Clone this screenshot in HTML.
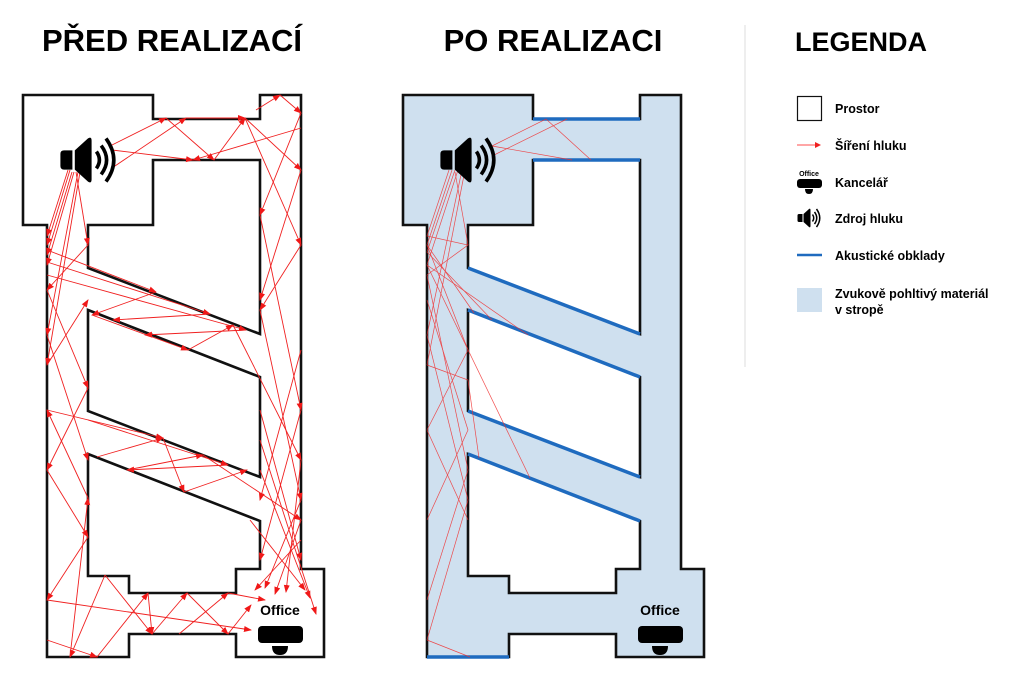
<!DOCTYPE html>
<html><head><meta charset="utf-8"><style>
html,body{margin:0;padding:0;background:#fff;}
svg{display:block;font-family:"Liberation Sans",sans-serif;}
</style></head><body>
<svg width="1024" height="683" viewBox="0 0 1024 683" xmlns="http://www.w3.org/2000/svg">
<defs>
<marker id="ar" markerWidth="8" markerHeight="8" refX="7" refY="4" orient="auto" markerUnits="userSpaceOnUse">
<path d="M0,1 L8,4 L0,7 Z" fill="#f01818"/></marker>
<g id="spk">
<path d="M0,-8 h7 v16 h-7 q-3,0 -3,-3 v-10 q0,-3 3,-3z" fill="#000"/>
<path d="M9,-8 L20,-18 q3,-2 3,2 v32 q0,4 -3,2 L9,8z" fill="#000"/>
<path d="M27,-7 q5,7 0,14" stroke="#000" stroke-width="3" fill="none"/>
<path d="M31,-12 q9,12 0,24" stroke="#000" stroke-width="3" fill="none"/>
<path d="M35,-18 q13,18 0,36" stroke="#000" stroke-width="3" fill="none"/>
</g>
<g id="off">
<rect x="0" y="0" width="45" height="17" rx="4" fill="#000"/>
<path d="M14,20 h16 q0,9 -8,9 q-8,0 -8,-9z" fill="#000"/>
</g>
</defs>

<text x="172" y="51" font-size="31" font-weight="bold" text-anchor="middle" fill="#000">PŘED REALIZACÍ</text>
<text x="553" y="51" font-size="31" font-weight="bold" text-anchor="middle" fill="#000">PO REALIZACI</text>
<text x="861" y="51" font-size="27" font-weight="bold" text-anchor="middle" fill="#000">LEGENDA</text>
<line x1="745" y1="25" x2="745" y2="367" stroke="#ddd" stroke-width="1"/>

<g fill="none" stroke="#111" stroke-width="2.6">
<path d="M23,95 H153 V119 H260 V95 H301 V569 H324 V657 H236 V634 H129 V657 H47 V225 H23 Z" fill="#fff"/>
<path d="M88,225 H153 V160 H260 V334 L88,268 Z"/>
<path d="M88,310 L260,377 V477 L88,411 Z"/>
<path d="M88,454 L260,521 V569 H236 V593 H129 V576 H88 Z"/>
</g>

<g stroke="#111" stroke-width="2.6">
<path d="M403,95 H533 V119 H640 V95 H681 V569 H704 V657 H616 V634 H509 V657 H427 V225 H403 Z" fill="#cfe0ef"/>
<path d="M468,225 H533 V160 H640 V334 L468,268 Z" fill="#fff"/>
<path d="M468,310 L640,377 V477 L468,411 Z" fill="#fff"/>
<path d="M468,454 L640,521 V569 H616 V593 H509 V576 H468 Z" fill="#fff"/>
</g>
<g stroke="#1f6bbf" stroke-width="3.5" fill="none">
<line x1="533" y1="119" x2="640" y2="119"/>
<line x1="533" y1="160" x2="640" y2="160"/>
<line x1="468" y1="268" x2="640" y2="334"/>
<line x1="468" y1="310" x2="640" y2="377"/>
<line x1="468" y1="411" x2="640" y2="477"/>
<line x1="468" y1="454" x2="640" y2="521"/>
<line x1="427" y1="657" x2="509" y2="657"/>
</g>

<g stroke="#f03030" stroke-width="0.7" fill="none" opacity="0.85">
<path d="M492,146 L546,119 L591,160"/>
<path d="M492,156 L567,119"/>
<path d="M492,146 L572,160"/>
<path d="M449,170 L427,236 L468,245 L427,275"/>
<path d="M452,170 L427,245 L474,313"/>
<path d="M455,170 L427,252 L492,320"/>
<path d="M458,170 L427,265 L528,335"/>
<path d="M462,170 L427,335"/>
<path d="M465,170 L427,365"/>
<path d="M455,172 L468,245"/>
<path d="M427,245 L468,350 L427,430"/>
<path d="M427,275 L468,470 L427,600"/>
<path d="M427,335 L468,500"/>
<path d="M427,365 L468,380 L479,458"/>
<path d="M427,265 L530,478"/>
<path d="M427,300 L468,430 L427,520"/>
<path d="M427,430 L468,520"/>
<path d="M427,640 L470,657"/>
<path d="M468,500 L427,640"/>
</g>

<g stroke="#f02020" stroke-width="0.9" fill="none" marker-end="url(#ar)">
<path d="M68,170 L47,236"/>
<path d="M70,170 L47,245"/>
<path d="M72,172 L47,255"/>
<path d="M74,172 L47,265"/>
<path d="M76,172 L88,245"/>
<path d="M78,172 L47,335"/>
<path d="M80,172 L47,365"/>
<path d="M112,145 L166,118"/>
<path d="M112,150 L193,160"/>
<path d="M112,168 L186,118"/>
<path d="M166,118 L214,160"/>
<path d="M186,118 L245,118"/>
<path d="M214,160 L245,118"/>
<path d="M245,118 L301,170"/>
<path d="M256,110 L280,95"/>
<path d="M280,95 L301,113"/>
<path d="M301,128 L193,160"/>
<path d="M301,113 L260,215"/>
<path d="M260,215 L301,410"/>
<path d="M301,245 L260,310"/>
<path d="M245,118 L301,245"/>
<path d="M301,170 L260,300"/>
<path d="M260,310 L301,500"/>
<path d="M301,350 L260,500"/>
<path d="M260,410 L301,560"/>
<path d="M301,410 L260,560"/>
<path d="M301,500 L265,588"/>
<path d="M301,540 L255,590"/>
<path d="M260,470 L310,598"/>
<path d="M260,440 L316,614"/>
<path d="M301,460 L286,592"/>
<path d="M250,520 L305,590"/>
<path d="M301,520 L275,594"/>
<path d="M47,250 L156,292"/>
<path d="M156,292 L92,315"/>
<path d="M47,262 L210,314"/>
<path d="M47,275 L246,330"/>
<path d="M210,314 L113,320"/>
<path d="M246,330 L145,335"/>
<path d="M92,315 L188,350"/>
<path d="M188,350 L233,325"/>
<path d="M233,325 L301,460"/>
<path d="M88,245 L47,290"/>
<path d="M47,290 L88,388"/>
<path d="M47,335 L88,460"/>
<path d="M47,365 L88,300"/>
<path d="M88,388 L47,470"/>
<path d="M47,410 L163,438"/>
<path d="M163,438 L184,492"/>
<path d="M184,492 L247,470"/>
<path d="M88,420 L228,465"/>
<path d="M228,465 L127,470"/>
<path d="M127,470 L203,455"/>
<path d="M97,457 L163,438"/>
<path d="M203,455 L301,520"/>
<path d="M47,470 L88,537"/>
<path d="M88,537 L47,600"/>
<path d="M88,498 L47,410"/>
<path d="M47,600 L251,630"/>
<path d="M47,640 L97,657"/>
<path d="M97,657 L148,593"/>
<path d="M148,593 L152,634"/>
<path d="M152,634 L187,593"/>
<path d="M187,593 L228,634"/>
<path d="M228,634 L251,605"/>
<path d="M105,575 L152,634"/>
<path d="M105,575 L70,657"/>
<path d="M179,634 L228,593"/>
<path d="M70,657 L88,498"/>
<path d="M228,593 L265,600"/>
</g>

<g transform="translate(64,160) scale(1.2)"><use href="#spk"/></g>
<g transform="translate(444,160) scale(1.2)"><use href="#spk"/></g>
<text x="280" y="615" font-size="14" font-weight="bold" text-anchor="middle">Office</text>
<use href="#off" x="258" y="626"/>
<text x="660" y="615" font-size="14" font-weight="bold" text-anchor="middle">Office</text>
<use href="#off" x="638" y="626"/>

<rect x="797.5" y="96.5" width="24" height="24" fill="#fff" stroke="#111" stroke-width="1.2"/>
<text x="835" y="113" font-size="12.5" font-weight="bold">Prostor</text>
<line x1="797" y1="145" x2="816" y2="145" stroke="#f88" stroke-width="1.5"/>
<path d="M815,142 L821,145 L815,148Z" fill="#f02020"/>
<text x="835" y="150" font-size="12.5" font-weight="bold">Šíření hluku</text>
<text x="809" y="176" font-size="7" font-weight="bold" text-anchor="middle">Office</text>
<rect x="797" y="179" width="25" height="9" rx="3" fill="#000"/>
<path d="M805,189 h8 q0,5 -4,5 q-4,0 -4,-5z" fill="#000"/>
<text x="835" y="187" font-size="12.5" font-weight="bold">Kancelář</text>
<g transform="translate(799,218) scale(0.5)"><use href="#spk"/></g>
<text x="835" y="223" font-size="12.5" font-weight="bold">Zdroj hluku</text>
<line x1="797" y1="255" x2="822" y2="255" stroke="#1f6bbf" stroke-width="2.5"/>
<text x="835" y="260" font-size="12.5" font-weight="bold">Akustické obklady</text>
<rect x="797" y="288" width="25" height="24" fill="#cfe0ef"/>
<text x="835" y="298" font-size="12.5" font-weight="bold">Zvukově pohltivý materiál</text>
<text x="835" y="314" font-size="12.5" font-weight="bold">v stropě</text>
</svg>
</body></html>
